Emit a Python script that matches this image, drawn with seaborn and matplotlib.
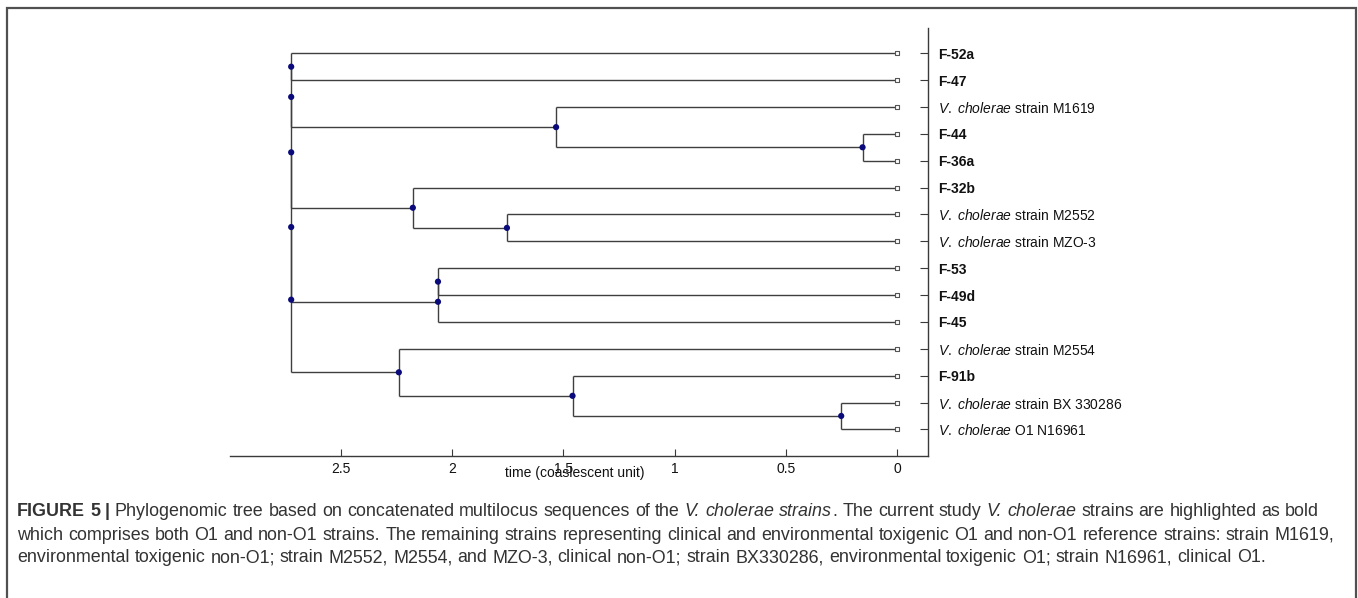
import re
import numpy as np
import pandas as pd
import seaborn as sns
import matplotlib as mpl
import matplotlib.pyplot as plt
from matplotlib.lines import Line2D

# ---------------- data ----------------
leaf_names = ["F-52a", "F-47", "V. cholerae strain M1619", "F-44", "F-36a", "F-32b",
              "V. cholerae strain M2552", "V. cholerae strain MZO-3", "F-53", "F-49d", "F-45",
              "V. cholerae strain M2554", "F-91b", "V. cholerae strain BX 330286",
              "V. cholerae O1 N16961"]
leaf_bold = [True, True, False, True, True, True, False, False, True, True, True,
             False, True, False, False]

node_names = ["n44_36", "n1619", "n2552", "n32b", "n53_49", "n45", "nBX", "n91b", "n2554",
              "ra", "rb", "rc", "rd", "root"]
node_heights = [0.155, 1.533, 1.754, 2.177, 2.064, 2.064, 0.251, 1.459, 2.240,
                2.724, 2.724, 2.724, 2.724, 2.724]
node_children = [["F-44", "F-36a"], ["V. cholerae strain M1619", "n44_36"],
                 ["V. cholerae strain M2552", "V. cholerae strain MZO-3"], ["F-32b", "n2552"],
                 ["F-53", "F-49d"], ["n53_49", "F-45"],
                 ["V. cholerae strain BX 330286", "V. cholerae O1 N16961"], ["F-91b", "nBX"],
                 ["V. cholerae strain M2554", "n91b"],
                 ["F-52a", "F-47"], ["ra", "n1619"], ["rb", "n32b"], ["rc", "n45"], ["rd", "n2554"]]

x_ticks = [2.5, 2.0, 1.5, 1.0, 0.5, 0.0]
x_ticklabels = ["2.5", "2", "1.5", "1", "0.5", "0"]
x_label = "time (coaslescent unit)"

caption_lines = [
    [("FIGURE 5 |", "normal", "bold"),
     (" Phylogenomic tree based on concatenated multilocus sequences of the ", "normal", "normal"),
     ("V. cholerae strains", "italic", "normal"),
     (". The current study ", "normal", "normal"),
     ("V. cholerae", "italic", "normal"),
     (" strains are highlighted as bold", "normal", "normal")],
    [("which comprises both O1 and non-O1 strains. The remaining strains representing clinical "
      "and environmental toxigenic O1 and non-O1 reference strains: strain M1619,", "normal", "normal")],
    [("environmental toxigenic non-O1; strain M2552, M2554, and MZO-3, clinical non-O1; strain "
      "BX330286, environmental toxigenic O1; strain N16961, clinical O1.", "normal", "normal")],
]

# ---------------- style ----------------
sns.set_theme(style="white")
plt.rcParams['font.family'] = ['Liberation Sans', 'DejaVu Sans']
plt.rcParams['mathtext.fontset'] = 'custom'
plt.rcParams['mathtext.rm'] = 'Liberation Sans'
plt.rcParams['mathtext.it'] = 'Liberation Sans:italic'
plt.rcParams['mathtext.bf'] = 'Liberation Sans:bold'

W, H = 1358, 598
fig = plt.figure(figsize=(W / 100, H / 100), dpi=100)
fig.patch.set_facecolor("white")
ax_l, ax_r, ax_t, ax_b = 229.8, 927.5, 28.0, 456.0
ax = fig.add_axes([ax_l / W, 1 - ax_b / H, (ax_r - ax_l) / W, (ax_b - ax_t) / H])
ax.set_facecolor("white")

# ---------------- layout of tree ----------------
pos = {}
for i, n in enumerate(leaf_names):
    pos[n] = (0.0, float(i))
for n, h, ch in zip(node_names, node_heights, node_children):
    pos[n] = (h, float(np.mean([pos[c][1] for c in ch])))

line_col = "#3f3f3f"
for n, h, ch in zip(node_names, node_heights, node_children):
    ys = [pos[c][1] for c in ch]
    ax.vlines(h, min(ys), max(ys), color=line_col, lw=1.0, zorder=1)
    for c in ch:
        ax.hlines(pos[c][1], h, pos[c][0], color=line_col, lw=1.0, zorder=1)

nodes_df = pd.DataFrame({"x": node_heights, "y": [pos[n][1] for n in node_names]})
leaves_df = pd.DataFrame({"x": [pos[n][0] for n in leaf_names], "y": [pos[n][1] for n in leaf_names]})

sns.scatterplot(data=nodes_df, x="x", y="y", color="#0a0a7a", s=20, edgecolor="none",
                ax=ax, zorder=3, legend=False)
sns.scatterplot(data=leaves_df, x="x", y="y", marker="s", s=9, facecolor="white",
                edgecolor="#555555", linewidth=0.8, ax=ax, zorder=3, legend=False)

ax.set_xlim(3.0, -0.137)
ax.set_ylim(14.99, -0.94)

for s in ["left", "top"]:
    ax.spines[s].set_visible(False)
for s in ["right", "bottom"]:
    ax.spines[s].set_visible(True)
    ax.spines[s].set_color("#3a3a3a")
    ax.spines[s].set_linewidth(1.0)

ax.set_xticks(x_ticks)
ax.set_xticklabels(x_ticklabels)
ax.tick_params(axis="x", direction="in", length=5, width=0.8, color="#3a3a3a",
               pad=4, labelsize=10, labelcolor="#111111", bottom=True)

def fmt_label(name):
    if name.startswith("V. cholerae"):
        rest = name[len("V. cholerae"):]
        return r"$\mathit{V.}$ $\mathit{cholerae}$" + rest
    return name

ax.yaxis.tick_right()
ax.set_yticks(range(len(leaf_names)))
ax.set_yticklabels([fmt_label(n) for n in leaf_names])
ax.tick_params(axis="y", direction="in", length=6, width=0.8, color="#3a3a3a",
               pad=7.5, labelsize=10, labelcolor="#111111", right=True, left=False)
for lab, b in zip(ax.get_yticklabels(), leaf_bold):
    if b:
        lab.set_fontweight("bold")

ax.set_xlabel(x_label, fontsize=10, color="#111111")
ax.xaxis.label.set_va("center")
ax.xaxis.set_label_coords((574.5 - ax_l) / (ax_r - ax_l), -(473 - ax_b) / (ax_b - ax_t))
ax.set_ylabel("")

# ---------------- outer frame ----------------
fx0, fx1, fy0 = 7.3 / W, 1355.5 / W, 1 - 8.3 / H
fig.add_artist(Line2D([fx0, fx0, fx1, fx1], [-0.05, fy0, fy0, -0.05], transform=fig.transFigure,
                      color="#505050", lw=1.6, solid_joinstyle="miter"))

# ---------------- caption (mixed styles laid out word by word) ----------------
cap_family = ["Liberation Sans", "DejaVu Sans"]
cap_color = "#333333"
renderer = fig.canvas.get_renderer()
_cache = {}

def adv(word, style, weight, size):
    key = (word, style, weight, size)
    if key not in _cache:
        t = fig.text(0, 0, "|" + word + "|", family=cap_family, size=size, style=style, weight=weight)
        w1 = t.get_window_extent(renderer).width
        t.set_text("||")
        w2 = t.get_window_extent(renderer).width
        t.remove()
        _cache[key] = w1 - w2
    return _cache[key]

def tokens(segs):
    out = []
    for txt, style, weight in segs:
        for tok in re.split(r"( )", txt):
            if tok:
                out.append((tok, style, weight))
    return out

def natural_width(segs, size):
    return sum(adv(t, s, w, size) for t, s, w in tokens(segs))

cap_x0 = 17.0
line2_end = 1330.0
base = 13.0
cap_size = base * (line2_end - cap_x0) / natural_width(caption_lines[1], base)

cap_ys = [512, 535, 558]
for segs, yy in zip(caption_lines, cap_ys):
    x = cap_x0
    for tok, style, weight in tokens(segs):
        if tok == " ":
            x += adv(" ", style, weight, cap_size)
            continue
        fig.text(x / W, 1 - yy / H, tok, family=cap_family, size=cap_size, style=style,
                 weight=weight, color=cap_color, ha="left", va="center")
        x += adv(tok, style, weight, cap_size)

fig.savefig("out.png", dpi=100, facecolor="white")
